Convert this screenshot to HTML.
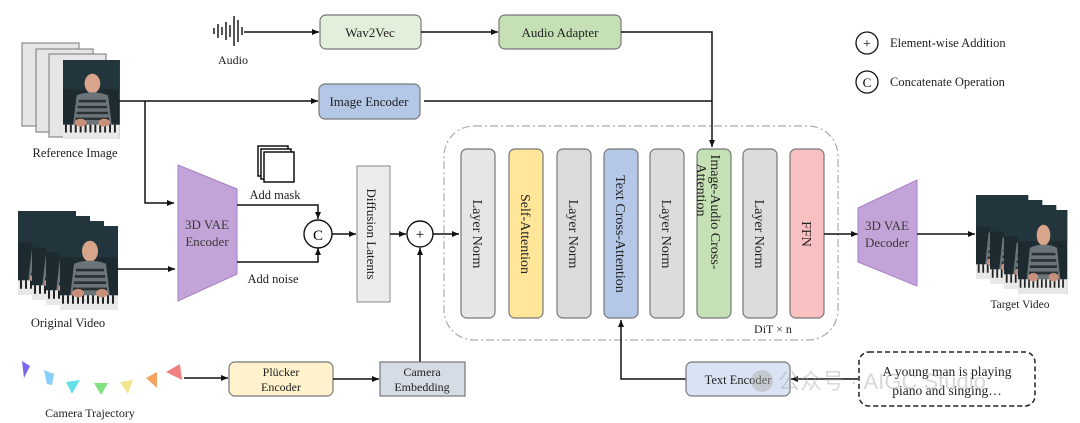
<!DOCTYPE html>
<html><head><meta charset="utf-8"><style>
html,body{margin:0;padding:0;background:#fff;}
svg{display:block;font-family:"Liberation Serif",serif;}
</style></head><body>
<svg width="1080" height="423" viewBox="0 0 1080 423" xmlns="http://www.w3.org/2000/svg">
<defs>
<marker id="a" markerWidth="8" markerHeight="8" refX="7" refY="4" orient="auto" markerUnits="userSpaceOnUse"><path d="M0,1 L7,4 L0,7 z" fill="#111"/></marker>
<g id="photo">
<rect x="0" y="0" width="58" height="80" fill="#1d2a30"/>
<rect x="0" y="0" width="58" height="30" fill="#22343c"/>
<ellipse cx="30" cy="24" rx="8" ry="10" fill="#d8a58a"/>
<path d="M14,36 Q30,30 46,36 L50,68 L10,68 z" fill="#6b7478"/>
<path d="M16,42 h28 M15,48 h30 M14,54 h32 M13,60 h34" stroke="#2a3034" stroke-width="2.5"/>
<rect x="0" y="66" width="58" height="14" fill="#e8e8e8"/>
<path d="M3,66 v8 M8,66 v8 M13,66 v8 M18,66 v8 M23,66 v8 M28,66 v8 M33,66 v8 M38,66 v8 M43,66 v8 M48,66 v8 M53,66 v8" stroke="#222" stroke-width="2"/>
<ellipse cx="18" cy="64" rx="6" ry="4" fill="#c8907a"/><ellipse cx="42" cy="64" rx="6" ry="4" fill="#c8907a"/>
</g>
</defs>

<g stroke="#555" stroke-width="2">
<line x1="214" y1="28" x2="214" y2="34"/><line x1="218" y1="24" x2="218" y2="38"/><line x1="222" y1="27" x2="222" y2="35"/>
<line x1="226" y1="22" x2="226" y2="40"/><line x1="230" y1="25" x2="230" y2="37"/><line x1="234" y1="16" x2="234" y2="46"/>
<line x1="238" y1="20" x2="238" y2="42"/><line x1="242" y1="27" x2="242" y2="35"/>
</g>
<text x="233" y="64" font-size="12" text-anchor="middle" fill="#222">Audio</text>
<line x1="244" y1="32" x2="319" y2="32" stroke="#111" stroke-width="1.5" marker-end="url(#a)"/>
<rect x="320" y="15" width="101" height="34" rx="6" fill="#e2efda" stroke="#777" stroke-width="1.2"/>
<text x="370" y="37" font-size="13" text-anchor="middle" fill="#222">Wav2Vec</text>
<line x1="421" y1="32" x2="498" y2="32" stroke="#111" stroke-width="1.5" marker-end="url(#a)"/>
<rect x="499" y="15" width="122" height="34" rx="6" fill="#c5e0b4" stroke="#777" stroke-width="1.2"/>
<text x="560" y="37" font-size="13" text-anchor="middle" fill="#222">Audio Adapter</text>
<polyline points="621,32 712,32 712,147" fill="none" stroke="#111" stroke-width="1.5" marker-end="url(#a)"/>

<circle cx="867" cy="43" r="11" fill="#fff" stroke="#111" stroke-width="1.3"/>
<text x="867" y="48" font-size="14" text-anchor="middle">+</text>
<text x="890" y="47" font-size="12.5" fill="#222">Element-wise Addition</text>
<circle cx="867" cy="82" r="11" fill="#fff" stroke="#111" stroke-width="1.3"/>
<text x="867" y="87" font-size="13" text-anchor="middle">C</text>
<text x="890" y="86" font-size="12.5" fill="#222">Concatenate Operation</text>

<rect x="22" y="43" width="57" height="83" fill="#e6e6e6" stroke="#888" stroke-width="1.2"/>
<rect x="36" y="49" width="57" height="83" fill="#e6e6e6" stroke="#888" stroke-width="1.2"/>
<rect x="49" y="54" width="57" height="83" fill="#e6e6e6" stroke="#888" stroke-width="1.2"/>
<use href="#photo" transform="translate(63,60) scale(0.98,0.98)"/>
<text x="75" y="157" font-size="12.5" text-anchor="middle" fill="#222">Reference Image</text>
<line x1="119" y1="101" x2="318" y2="101" stroke="#111" stroke-width="1.5" marker-end="url(#a)"/>
<rect x="319" y="84" width="101" height="35" rx="6" fill="#b4c7e7" stroke="#777" stroke-width="1.2"/>
<text x="369" y="106" font-size="13" text-anchor="middle" fill="#222">Image Encoder</text>
<polyline points="424,101 712,101" fill="none" stroke="#111" stroke-width="1.5"/>
<polyline points="145,101 145,203 174,203" fill="none" stroke="#111" stroke-width="1.5" marker-end="url(#a)"/>

<g>
<use href="#photo" transform="translate(18,211) scale(1,1.05)"/>
<use href="#photo" transform="translate(32,216) scale(1,1.05)"/>
<use href="#photo" transform="translate(46,221) scale(1,1.05)"/>
<use href="#photo" transform="translate(60,226) scale(1,1.05)"/>
</g>
<text x="68" y="327" font-size="12.5" text-anchor="middle" fill="#222">Original Video</text>
<line x1="118" y1="269" x2="175" y2="269" stroke="#111" stroke-width="1.5" marker-end="url(#a)"/>

<polygon points="178,165 237,189 237,274 178,301" fill="#c3a4d8" stroke="#a77fc4" stroke-width="1"/>
<text x="207" y="229" font-size="13" text-anchor="middle" fill="#3a3a3a">3D VAE</text>
<text x="207" y="246" font-size="13" text-anchor="middle" fill="#3a3a3a">Encoder</text>

<rect x="258" y="146" width="30" height="30" fill="#fff" stroke="#111" stroke-width="1.5"/>
<rect x="261" y="149" width="30" height="30" fill="#fff" stroke="#111" stroke-width="1.5"/>
<rect x="264" y="152" width="30" height="30" fill="#fff" stroke="#111" stroke-width="1.5"/>
<text x="275" y="199" font-size="12.5" text-anchor="middle" fill="#222">Add mask</text>
<polyline points="237,205 318,205 318,219" fill="none" stroke="#111" stroke-width="1.5" marker-end="url(#a)"/>
<polyline points="237,262 318,262 318,248" fill="none" stroke="#111" stroke-width="1.5" marker-end="url(#a)"/>
<text x="273" y="283" font-size="12.5" text-anchor="middle" fill="#222">Add noise</text>
<circle cx="318" cy="234" r="14" fill="#fff" stroke="#111" stroke-width="1.4"/>
<text x="318" y="240" font-size="15" text-anchor="middle">C</text>
<line x1="332" y1="234" x2="356" y2="234" stroke="#111" stroke-width="1.5" marker-end="url(#a)"/>

<rect x="357" y="166" width="33" height="136" fill="#ececec" stroke="#888" stroke-width="1"/>
<text transform="translate(367,234) rotate(90)" font-size="13" text-anchor="middle" fill="#222">Diffusion Latents</text>
<line x1="390" y1="234" x2="406" y2="234" stroke="#111" stroke-width="1.5" marker-end="url(#a)"/>
<circle cx="420" cy="234" r="13" fill="#fff" stroke="#111" stroke-width="1.4"/>
<text x="420" y="239" font-size="15" text-anchor="middle">+</text>
<line x1="420" y1="362" x2="420" y2="248" stroke="#111" stroke-width="1.5" marker-end="url(#a)"/>
<line x1="433" y1="234" x2="459" y2="234" stroke="#111" stroke-width="1.5" marker-end="url(#a)"/>

<rect x="444" y="126" width="394" height="214" rx="30" fill="none" stroke="#aaa" stroke-width="1.2" stroke-dasharray="8,3,2,3"/>
<g stroke="#777" stroke-width="1.2">
<rect x="461" y="149" width="34" height="169" rx="6" fill="#e7e6e6"/>
<rect x="509" y="149" width="34" height="169" rx="6" fill="#ffe699"/>
<rect x="557" y="149" width="34" height="169" rx="6" fill="#dcdcdc"/>
<rect x="604" y="149" width="34" height="169" rx="6" fill="#b4c7e7"/>
<rect x="650" y="149" width="34" height="169" rx="6" fill="#dcdcdc"/>
<rect x="697" y="149" width="34" height="169" rx="6" fill="#c5e0b4"/>
<rect x="743" y="149" width="34" height="169" rx="6" fill="#dcdcdc"/>
<rect x="790" y="149" width="34" height="169" rx="6" fill="#f8c0c0"/>
</g>
<g font-size="14" text-anchor="middle" fill="#222">
<text transform="translate(473,234) rotate(90)">Layer Norm</text>
<text transform="translate(521,234) rotate(90)">Self-Attention</text>
<text transform="translate(569,234) rotate(90)">Layer Norm</text>
<text transform="translate(616,234) rotate(90)">Text Cross-Attention</text>
<text transform="translate(662,234) rotate(90)">Layer Norm</text>
<text transform="translate(711,212) rotate(90)">Image-Audio Cross-</text>
<text transform="translate(697,190) rotate(90)">Attention</text>
<text transform="translate(755,234) rotate(90)">Layer Norm</text>
<text transform="translate(802,234) rotate(90)">FFN</text>
</g>
<text x="773" y="333" font-size="12" text-anchor="middle" fill="#222">DiT × n</text>

<line x1="824" y1="234" x2="858" y2="234" stroke="#111" stroke-width="1.5" marker-end="url(#a)"/>
<polygon points="858,208 917,180 917,286 858,262" fill="#c3a4d8" stroke="#a77fc4" stroke-width="1"/>
<text x="887" y="230" font-size="13" text-anchor="middle" fill="#3a3a3a">3D VAE</text>
<text x="887" y="247" font-size="13" text-anchor="middle" fill="#3a3a3a">Decoder</text>
<line x1="917" y1="234" x2="975" y2="234" stroke="#111" stroke-width="1.5" marker-end="url(#a)"/>

<use href="#photo" transform="translate(976,195) scale(0.9,1.05)"/>
<use href="#photo" transform="translate(990,200) scale(0.9,1.05)"/>
<use href="#photo" transform="translate(1004,205) scale(0.9,1.05)"/>
<use href="#photo" transform="translate(1018,210) scale(0.85,1.05)"/>
<text x="1020" y="308" font-size="11.5" text-anchor="middle" fill="#222">Target Video</text>

<polygon points="22,361 30,366 24,378" fill="#7b68ee"/>
<polygon points="44,370 54,374 52,385 47,384" fill="#87cefa"/>
<polygon points="66,382 80,380 72,394" fill="#66e0e8"/>
<polygon points="94,383 108,383 101,395" fill="#7ee27e"/>
<polygon points="120,382 133,380 128,394" fill="#f0e68c"/>
<polygon points="146,378 157,372 157,388" fill="#f4a460"/>
<polygon points="166,372 180,364 182,380" fill="#f08080"/>
<text x="90" y="417" font-size="12" text-anchor="middle" fill="#222">Camera Trajectory</text>
<line x1="184" y1="378" x2="228" y2="378" stroke="#111" stroke-width="1.5" marker-end="url(#a)"/>
<rect x="229" y="362" width="104" height="34" rx="6" fill="#fff2cc" stroke="#777" stroke-width="1.2"/>
<text x="281" y="376" font-size="12" text-anchor="middle" fill="#222">Plücker</text>
<text x="281" y="391" font-size="12" text-anchor="middle" fill="#222">Encoder</text>
<line x1="333" y1="379" x2="379" y2="379" stroke="#111" stroke-width="1.5" marker-end="url(#a)"/>
<rect x="380" y="362" width="85" height="34" fill="#d6dce5" stroke="#777" stroke-width="1.2"/>
<text x="422" y="376" font-size="12" text-anchor="middle" fill="#222">Camera</text>
<text x="422" y="391" font-size="12" text-anchor="middle" fill="#222">Embedding</text>

<polyline points="686,379 621,379 621,320" fill="none" stroke="#111" stroke-width="1.5" marker-end="url(#a)"/>
<rect x="686" y="362" width="104" height="34" rx="6" fill="#dae3f3" stroke="#777" stroke-width="1.2"/>
<text x="738" y="384" font-size="12.5" text-anchor="middle" fill="#222">Text Encoder</text>
<line x1="858" y1="379" x2="791" y2="379" stroke="#111" stroke-width="1.5" marker-end="url(#a)"/>
<rect x="859" y="352" width="176" height="54" rx="10" fill="#fff" stroke="#222" stroke-width="1.5" stroke-dasharray="5,3"/>
<text x="947" y="376" font-size="13.5" text-anchor="middle" fill="#222">A young man is playing</text>
<text x="947" y="395" font-size="13.5" text-anchor="middle" fill="#222">piano and singing…</text>

<g fill="#aaa" opacity="0.45">
<circle cx="762" cy="381" r="11"/>
<text x="778" y="389" font-size="22" font-family="Liberation Sans, Noto Sans CJK SC, sans-serif">公众号 · AIGC Studio</text>
</g>
</svg>
</body></html>
